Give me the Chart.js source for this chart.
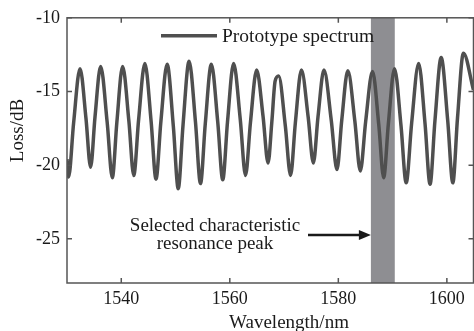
<!DOCTYPE html>
<html>
<head>
<meta charset="utf-8">
<script src="https://cdn.jsdelivr.net/npm/chart.js@4"></script>
<style>
  html, body { margin: 0; padding: 0; background: #fff; }
  #wrap { width: 474px; height: 331px; position: relative; }
</style>
</head>
<body>
<div id="wrap"><canvas id="chart"></canvas></div>
<script>
// spectrum (nm / dB)
const wavelength = [
    1530.0, 1530.3, 1531.22, 1532.4, 1533.49, 1534.35, 1535.16, 1536.2, 1537.4, 1538.35,
    1539.19, 1540.25, 1541.4, 1542.3, 1543.2, 1544.35, 1545.5, 1546.4, 1547.3, 1548.45,
    1549.6, 1550.5, 1551.38, 1552.5, 1553.68, 1554.6, 1555.48, 1556.6, 1557.78, 1558.7,
    1559.58, 1560.7, 1561.93, 1562.9, 1563.8, 1564.95, 1566.13, 1567.05, 1567.75, 1568.35,
    1569.0, 1570.23, 1571.2, 1572.08, 1573.2, 1574.43, 1575.4, 1576.26, 1577.35, 1578.69,
    1579.75, 1580.63, 1581.75, 1583.04, 1584.05, 1585.04, 1586.3, 1587.45, 1588.35, 1589.23,
    1590.35, 1591.55, 1592.5, 1593.51, 1594.8, 1595.98, 1596.9, 1597.8, 1598.95, 1600.15,
    1601.1, 1601.96, 1603.05, 1604.9
];
const loss = [
    -19.6, -20.8, -17.13, -13.45, -16.8, -20.15, -16.73, -13.3, -17.08, -20.85,
    -17.08, -13.3, -17.0, -20.7, -16.9, -13.1, -17.03, -20.95, -17.05, -13.15,
    -17.38, -21.6, -17.28, -12.95, -17.1, -21.25, -17.2, -13.15, -17.08, -21.0,
    -17.05, -13.1, -16.9, -20.7, -17.13, -13.55, -16.7, -19.85, -17.05, -14.3,
    -13.95, -17.33, -20.7, -17.13, -13.55, -16.7, -19.85, -16.7, -13.55, -16.93,
    -20.3, -16.95, -13.6, -17.0, -20.4, -17.03, -13.65, -17.25, -20.85, -17.15,
    -13.45, -17.33, -21.2, -17.15, -13.1, -17.2, -21.3, -17.0, -12.7, -16.95,
    -21.2, -16.8, -12.4, -14.9
];
const xTicks = [1540, 1560, 1580, 1600];
const yTicks = [-25, -20, -15, -10];
const band = [1586.0, 1590.4];

const serif = '"Liberation Serif", "Times New Roman", serif';
const lineColor = '#4f4f4f';

// extra drawing: band, frame with inward ticks, legend, note, titles //
const decor = {
    id: 'decor',
    beforeDatasetsDraw(chart) {
        const {ctx, chartArea: a, scales: {x}} = chart;
        const x0 = x.getPixelForValue(band[0]);
        const x1 = x.getPixelForValue(band[1]);
        ctx.save();
        ctx.fillStyle = 'rgb(142,142,146)';
        ctx.fillRect(x0, a.top, x1 - x0, a.bottom - a.top);
        ctx.restore();
    },
    afterDatasetsDraw(chart) {
        const {ctx, chartArea: a, scales: {x, y}} = chart;
        ctx.save();
        ctx.strokeStyle = '#555';
        ctx.lineWidth = 1.5;
        ctx.strokeRect(a.left, a.top, a.right - a.left - 0.5, a.bottom - a.top);
        ctx.beginPath();
        xTicks.forEach(v => {
            const px = x.getPixelForValue(v);
            ctx.moveTo(px, a.bottom); ctx.lineTo(px, a.bottom - 5);
            ctx.moveTo(px, a.top); ctx.lineTo(px, a.top + 5);
        });
        yTicks.forEach(v => {
            const py = y.getPixelForValue(v);
            ctx.moveTo(a.left, py); ctx.lineTo(a.left + 5, py);
            ctx.moveTo(a.right - 0.5, py); ctx.lineTo(a.right - 5.5, py);
        });
        ctx.stroke();

        // legend
        ctx.strokeStyle = lineColor;
        ctx.lineWidth = 3.5;
        ctx.beginPath();
        ctx.moveTo(161, 35.7); ctx.lineTo(217, 35.7);
        ctx.stroke();
        ctx.fillStyle = '#1a1a1a';
        ctx.font = '19.5px ' + serif;
        ctx.textAlign = 'left';
        ctx.textBaseline = 'alphabetic';
        ctx.fillText('Prototype spectrum', 222, 42);

        // note and arrow
        ctx.font = '19px ' + serif;
        ctx.textAlign = 'center';
        ctx.fillText('Selected characteristic', 215, 231);
        ctx.fillText('resonance peak', 215, 249);
        const tip = x.getPixelForValue(band[0]);
        ctx.strokeStyle = '#1a1a1a';
        ctx.lineWidth = 2.7;
        ctx.beginPath();
        ctx.moveTo(308, 235); ctx.lineTo(tip - 10, 235);
        ctx.stroke();
        ctx.beginPath();
        ctx.moveTo(tip, 235); ctx.lineTo(tip - 12, 230); ctx.lineTo(tip - 12, 240);
        ctx.closePath();
        ctx.fill();

        // axis titles
        ctx.fillText('Wavelength/nm', 289, 328);
        ctx.translate(23, 130.5);
        ctx.rotate(-Math.PI / 2);
        ctx.fillText('Loss/dB', 0, 0);
        ctx.restore();
    }
};

const chart = document.querySelector('#chart').getContext('2d');

new Chart(chart, {
    type: 'line',
    data: {
        datasets: [
            {
                label: 'Prototype spectrum',
                data: wavelength.map((w, i) => ({x: w, y: loss[i]})),
                borderColor: lineColor,
                borderWidth: 3.5,
                pointRadius: 0,
                cubicInterpolationMode: 'monotone'
            }
        ]
    },
    options: {
        responsive: true,
        maintainAspectRatio: false,
        animation: false,
        layout: {padding: {top: 13, right: 0, left: 0, bottom: 0}},
        plugins: {legend: {display: false}, tooltip: {enabled: false}},
        scales: {
            x: {
                type: 'linear',
                min: 1530,
                max: 1605,
                afterBuildTicks: s => { s.ticks = xTicks.map(v => ({value: v})); },
                afterFit: s => { s.height = 48; },
                grid: {display: false, drawTicks: false},
                border: {display: false},
                ticks: {color: '#1a1a1a', font: {family: serif, size: 18}, padding: 5, maxRotation: 0,
                    callback: v => String(v)}
            },
            y: {
                min: -28,
                max: -10,
                afterBuildTicks: s => { s.ticks = yTicks.map(v => ({value: v})); },
                afterFit: s => { s.width = 67; },
                grid: {display: false, drawTicks: false},
                border: {display: false},
                ticks: {color: '#1a1a1a', font: {family: serif, size: 18}, padding: 7,
                    callback: v => String(v)}
            }
        }
    },
    plugins: [decor]
});
</script>
</body>
</html>
